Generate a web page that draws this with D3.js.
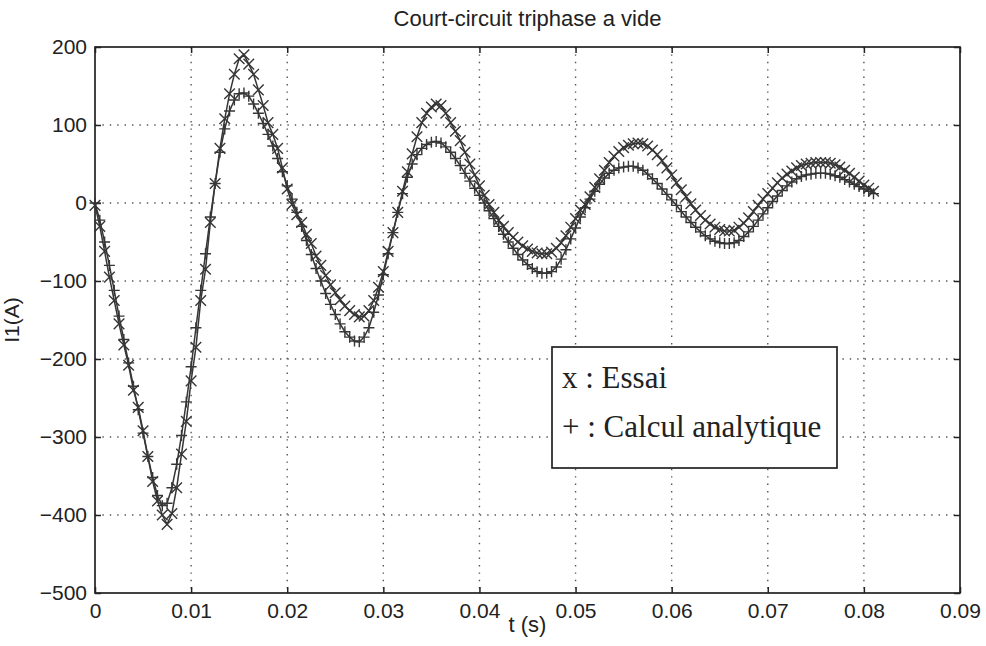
<!DOCTYPE html>
<html>
<head>
<meta charset="utf-8">
<script src="https://cdn.jsdelivr.net/npm/d3@7"></script>
<style>
  html, body { margin: 0; padding: 0; background: #ffffff; }
  svg { display: block; }
</style>
</head>
<body>
<svg id="chart" width="986" height="646"></svg>
<script>
// ---------- data ----------
const titleText = "Court-circuit triphase a vide";
const xLabelText = "t (s)";
const yLabelText = "I1(A)";
const xTicks = [0, 0.01, 0.02, 0.03, 0.04, 0.05, 0.06, 0.07, 0.08, 0.09];
const yTicks = [200, 100, 0, -100, -200, -300, -400, -500];
const legendLabels = ["x : Essai", "+ : Calcul analytique"];
const sampleStep = 0.0005; // s, sampling period of both series

// Essai (measured, 'x' markers), one value every 0.5 ms from t = 0
const essai = [
  -3, -30, -62, -95, -125, -155, -182, -208, -240, -262,
  -292, -325, -357, -382, -400, -412, -398, -365, -322, -280,
  -228, -185, -125, -85, -25, 25, 70, 108, 140, 165,
  185, 190, 178, 165, 145, 125, 103, 88, 70, 45,
  18, -2, -15, -25, -40, -52, -68, -80, -93, -105,
  -115, -124, -132, -138, -143, -146, -145, -138, -125, -108,
  -88, -62, -38, -12, 15, 40, 63, 85, 103, 115,
  123, 127, 125, 115, 103, 92, 80, 65, 50, 36,
  22, 10, -2, -12, -22, -30, -38, -44, -50, -55,
  -59, -62, -64, -65, -65, -63, -58, -51, -42, -31,
  -20, -9, -2, 8, 20, 31, 42, 52, 60, 66,
  71, 74, 76, 77, 76, 73, 68, 62, 54, 45,
  36, 26, 17, 8, -1, -9, -16, -22, -27, -31,
  -34, -36, -36, -35, -31, -26, -19, -11, -3, 5,
  12, 19, 26, 32, 37, 41, 45, 48, 50, 51,
  52, 52, 52, 51, 49, 46, 42, 38, 33, 28,
  23, 19, 15
];

// Calcul analytique ('+' markers), one value every 0.5 ms from t = 0
const analytique = [
  0, -22, -50, -80, -112, -145, -175, -205, -235, -265,
  -295, -325, -352, -375, -388, -385, -365, -335, -298, -255,
  -210, -160, -112, -65, -18, 25, 65, 95, 118, 132,
  140, 141, 137, 127, 115, 102, 88, 73, 57, 40,
  22, 5, -12, -30, -48, -66, -84, -100, -116, -130,
  -143, -155, -165, -172, -177, -178, -172, -160, -140, -118,
  -92, -65, -38, -12, 12, 33, 50, 62, 70, 75,
  78, 79, 77, 72, 65, 57, 48, 38, 28, 19,
  10, 0, -10, -20, -30, -40, -50, -58, -66, -73,
  -79, -84, -88, -90, -90, -88, -82, -72, -60, -46,
  -32, -18, -6, 5, 15, 24, 32, 38, 42, 45,
  46, 47, 47, 45, 42, 37, 31, 25, 18, 11,
  4, -3, -11, -18, -25, -31, -37, -42, -46, -49,
  -51, -52, -52, -51, -48, -43, -37, -30, -22, -14,
  -6, 2, 9, 16, 22, 27, 31, 34, 36, 37,
  38, 38, 38, 37, 35, 33, 30, 27, 24, 21,
  18, 15, 12
];

// ---------- layout ----------
const svg = d3.select("#chart");
const L = 95, R = 960, T = 47, B = 593;
const x = d3.scaleLinear().domain([0, 0.09]).range([L, R]);
const y = d3.scaleLinear().domain([-500, 200]).range([B, T]);
const ink = "#222";
const tickFont = "'Liberation Sans', Arial, Helvetica, sans-serif";

// grid
const grid = svg.append("g").attr("stroke", "#555").attr("stroke-width", 1.4)
  .attr("stroke-dasharray", "1.4,6").attr("stroke-linecap", "butt");
grid.selectAll("line.v").data(xTicks.filter(d => d > 0 && d < 0.09)).enter().append("line")
  .attr("x1", d => x(d)).attr("x2", d => x(d)).attr("y1", T).attr("y2", B);
grid.selectAll("line.h").data(yTicks.filter(d => d > -500 && d < 200)).enter().append("line")
  .attr("y1", d => y(d)).attr("y2", d => y(d)).attr("x1", L).attr("x2", R);

// axes
const fmtX = d => d === 0 ? "0" : d3.format(".2f")(d);
const axB = d3.axisBottom(x).tickValues(xTicks).tickFormat(fmtX).tickSizeInner(-6).tickSizeOuter(0).tickPadding(10);
const axL = d3.axisLeft(y).tickValues(yTicks).tickFormat(d3.format("d")).tickSizeInner(-6).tickSizeOuter(0).tickPadding(8);
const axT = d3.axisTop(x).tickValues(xTicks).tickFormat("").tickSizeInner(-6).tickSizeOuter(0);
const axR = d3.axisRight(y).tickValues(yTicks).tickFormat("").tickSizeInner(-6).tickSizeOuter(0);

function styleAxis(g) {
  g.select(".domain").remove();
  g.selectAll(".tick line").attr("stroke", ink).attr("stroke-width", 1.5);
  g.selectAll(".tick text").attr("fill", ink).style("font-family", tickFont).style("font-size", "21px");
}
svg.append("g").attr("transform", `translate(0,${B})`).call(axB).call(styleAxis);
svg.append("g").attr("transform", `translate(${L},0)`).call(axL).call(styleAxis);
svg.append("g").attr("transform", `translate(0,${T})`).call(axT).call(styleAxis);
svg.append("g").attr("transform", `translate(${R},0)`).call(axR).call(styleAxis);

// frame
svg.append("rect").attr("x", L).attr("y", T).attr("width", R - L).attr("height", B - T)
  .attr("fill", "none").attr("stroke", ink).attr("stroke-width", 1.7);

// series
const pts = arr => arr.map((v, i) => ({ t: i * sampleStep, v }));
const line = d3.line().x(d => x(d.t)).y(d => y(d.v));
const lineColor = "#363636";

function drawSeries(arr, marker) {
  const data = pts(arr);
  const g = svg.append("g");
  g.append("path").datum(data).attr("d", line).attr("fill", "none")
    .attr("stroke", lineColor).attr("stroke-width", 1.5);
  const s = marker === "x" ? 5.3 : 5.5;
  const markerPath = marker === "x"
    ? `M${-s},${-s}L${s},${s}M${-s},${s}L${s},${-s}`
    : `M${-s},0L${s},0M0,${-s}L0,${s}`;
  g.selectAll("path.m").data(data).enter().append("path")
    .attr("class", "m")
    .attr("transform", d => `translate(${x(d.t)},${y(d.v)})`)
    .attr("d", markerPath).attr("stroke", lineColor).attr("stroke-width", 1.4).attr("fill", "none");
}
drawSeries(analytique, "+");
drawSeries(essai, "x");

// title & labels
svg.append("text").attr("x", (L + R) / 2).attr("y", 26).attr("text-anchor", "middle")
  .style("font-family", tickFont).style("font-size", "22px").attr("fill", ink).text(titleText);
svg.append("text").attr("x", (L + R) / 2).attr("y", 632).attr("text-anchor", "middle")
  .style("font-family", tickFont).style("font-size", "22px").attr("fill", ink).text(xLabelText);
svg.append("text").attr("transform", `translate(19,${(T + B) / 2}) rotate(-90)`).attr("text-anchor", "middle")
  .style("font-family", tickFont).style("font-size", "21px").attr("fill", ink).text(yLabelText);

// legend
const lg = svg.append("g");
lg.append("rect").attr("x", 552).attr("y", 347).attr("width", 285).attr("height", 121)
  .attr("fill", "#fff").attr("stroke", ink).attr("stroke-width", 1.7);
lg.selectAll("text").data(legendLabels).enter().append("text")
  .attr("x", 562).attr("y", (d, i) => 388 + i * 49)
  .style("font-family", "'Liberation Serif', 'Times New Roman', serif").style("font-size", "31px")
  .attr("fill", ink).text(d => d);
</script>
</body>
</html>
